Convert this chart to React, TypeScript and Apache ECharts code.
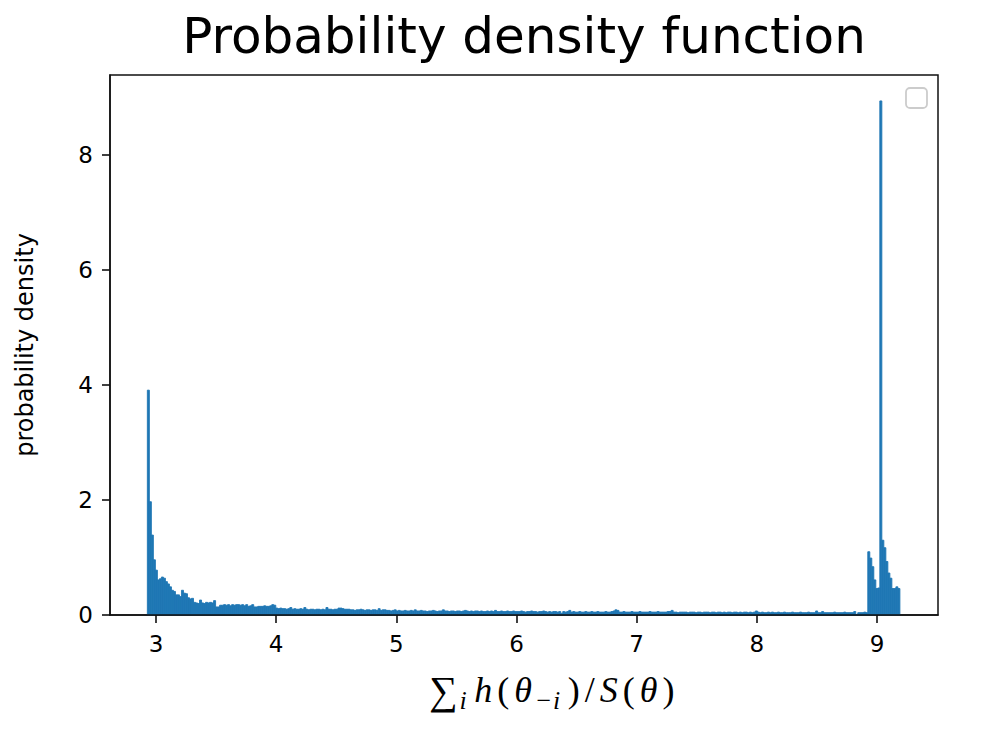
import React, { useEffect, useRef } from "react";
import * as echarts from "echarts";

// Histogram bin layout (equal-width bins)
const BIN_START = 2.928;
const BIN_WIDTH = 0.0167;

// Density per bin
const headBins = [
  3.91, 1.97, 1.39, 0.96, 0.78, 0.61, 0.63, 0.66, 0.64, 0.58,
  0.54, 0.49, 0.43, 0.41, 0.35, 0.35, 0.32, 0.43, 0.38, 0.37,
  0.30, 0.28, 0.29, 0.22, 0.21, 0.20, 0.26, 0.21, 0.20, 0.22,
  0.21, 0.22, 0.21, 0.25, 0.14, 0.14, 0.17, 0.17, 0.18, 0.17,
  0.18, 0.16, 0.18, 0.17, 0.18, 0.18, 0.17, 0.18, 0.16, 0.18,
  0.15, 0.16, 0.18, 0.14, 0.14, 0.15, 0.15, 0.15, 0.16, 0.15,
  0.15, 0.16, 0.18, 0.17,
];

const tailA = [
  0.12, 0.11, 0.12, 0.11, 0.11, 0.10,
  0.11, 0.13, 0.10, 0.11, 0.10, 0.10, 0.11, 0.10, 0.13, 0.10,
  0.09, 0.10, 0.10, 0.09, 0.10, 0.10, 0.09, 0.10, 0.09, 0.13,
  0.10, 0.10, 0.09, 0.10, 0.10, 0.12, 0.12, 0.11, 0.10, 0.10,
  0.10, 0.09, 0.09, 0.08, 0.09, 0.09, 0.10, 0.09, 0.08, 0.09,
  0.09, 0.08, 0.09, 0.09, 0.08, 0.11, 0.08, 0.09, 0.09, 0.08,
  0.08, 0.07, 0.08, 0.09, 0.07, 0.08, 0.07, 0.07, 0.08, 0.07,
  0.07, 0.08, 0.07, 0.09, 0.07, 0.07, 0.08, 0.07, 0.07, 0.06,
  0.07, 0.07, 0.08, 0.07, 0.06, 0.07, 0.07, 0.09, 0.07, 0.07,
  0.06, 0.07, 0.07, 0.06, 0.07, 0.07, 0.06, 0.07, 0.08, 0.07,
  0.06, 0.07, 0.06, 0.07, 0.07, 0.06, 0.07, 0.06, 0.06, 0.07,
  0.06, 0.07, 0.06, 0.08, 0.06, 0.06, 0.07, 0.06, 0.06, 0.07,
  0.06, 0.06, 0.07, 0.06, 0.06, 0.06, 0.07, 0.06, 0.05, 0.06,
  0.06, 0.07, 0.06, 0.06, 0.05, 0.06, 0.06, 0.07, 0.06, 0.05,
];

const tailB = [
  0.06, 0.05, 0.06, 0.06, 0.05, 0.06, 0.03, 0.06, 0.05, 0.06,
  0.08, 0.05, 0.06, 0.05, 0.05, 0.06, 0.05, 0.05, 0.06, 0.05,
  0.05, 0.06, 0.05, 0.05, 0.06, 0.05, 0.05, 0.05, 0.06, 0.05,
  0.05, 0.06, 0.07, 0.09, 0.08, 0.05, 0.05, 0.06, 0.05, 0.05,
  0.05, 0.06, 0.05, 0.05, 0.05, 0.06, 0.05, 0.05, 0.05, 0.05,
  0.06, 0.05, 0.05, 0.05, 0.06, 0.05, 0.05, 0.05, 0.05, 0.06,
  0.06, 0.08, 0.05, 0.05, 0.04, 0.05, 0.05, 0.05, 0.05, 0.04,
  0.05, 0.05, 0.05, 0.04, 0.05, 0.05, 0.04, 0.05, 0.05, 0.05,
  0.04, 0.05, 0.05, 0.04, 0.05, 0.05, 0.04, 0.05, 0.04, 0.05,
  0.05, 0.04, 0.05, 0.05, 0.04, 0.05, 0.04, 0.05, 0.05, 0.04,
  0.05, 0.04, 0.05, 0.07, 0.05, 0.04, 0.05, 0.04, 0.04, 0.05,
  0.04, 0.05, 0.04, 0.04, 0.05, 0.04, 0.04, 0.05, 0.04, 0.04,
  0.04, 0.05, 0.04, 0.04, 0.04, 0.05, 0.04, 0.04, 0.04, 0.05,
  0.04, 0.04, 0.04, 0.07, 0.04, 0.04, 0.06, 0.04, 0.04, 0.04,
  0.04, 0.04, 0.05, 0.04, 0.04, 0.04, 0.04, 0.05, 0.04, 0.04,
  0.04, 0.04, 0.06, 0.01, 0.04, 0.04, 0.04, 0.05, 0.04,
];

const rightCluster = [
  1.10, 0.99, 0.84, 0.61, 0.46, 0.47, 8.94, 1.30, 1.17, 0.93,
  0.73, 0.64, 0.46, 0.46, 0.49, 0.46,
];

const xTicks = [3, 4, 5, 6, 7, 8, 9];
const yTicks = [0, 2, 4, 6, 8];

const TITLE = "Probability density function";
const Y_LABEL = "probability density";

export default function App() {
  const ref = useRef<HTMLDivElement>(null);

  useEffect(() => {
    if (!ref.current) return;
    const chart = echarts.init(ref.current, undefined, { renderer: "svg" });

    const densities = [...headBins, ...tailA, ...tailB, ...rightCluster];
    const histData = densities.map((d, i) => [
      BIN_START + i * BIN_WIDTH,
      BIN_START + (i + 1) * BIN_WIDTH,
      d,
    ]);

    const lineColor = "#111";
    const font = "DejaVu Sans";
    const serif = "Liberation Serif";
    const pad = [0, 2.5, 0, 2.5];

    chart.setOption({
      animation: false,
      backgroundColor: "#fff",
      grid: {
        left: 110,
        right: 59,
        top: 75,
        bottom: 115,
        show: true,
        borderColor: lineColor,
        borderWidth: 1.5,
        backgroundColor: "transparent",
      },
      xAxis: {
        type: "value",
        min: 2.6172,
        max: 9.5076,
        z: 10,
        axisLine: { show: true, lineStyle: { color: lineColor, width: 1.5 } },
        axisTick: {
          show: true,
          length: 8,
          customValues: xTicks,
          lineStyle: { color: lineColor, width: 1.6 },
        },
        axisLabel: {
          customValues: xTicks,
          margin: 17,
          fontSize: 23,
          fontFamily: font,
          color: "#000",
        },
        splitLine: { show: false },
      },
      yAxis: {
        type: "value",
        min: 0,
        max: 9.391,
        z: 10,
        name: Y_LABEL,
        nameLocation: "middle",
        nameRotate: 90,
        nameGap: 73,
        nameTextStyle: { fontSize: 24, fontFamily: font, color: "#000" },
        axisLine: { show: true, lineStyle: { color: lineColor, width: 1.5 } },
        axisTick: {
          show: true,
          length: 8,
          customValues: yTicks,
          lineStyle: { color: lineColor, width: 1.6 },
        },
        axisLabel: {
          customValues: yTicks,
          margin: 17,
          fontSize: 23,
          fontFamily: font,
          color: "#000",
        },
        splitLine: { show: false },
      },
      graphic: [
        {
          type: "text",
          x: 524,
          y: 36,
          style: {
            text: TITLE,
            fontSize: 50,
            fontFamily: font,
            fill: "#000",
            align: "center",
            verticalAlign: "middle",
            textAlign: "center",
            textVerticalAlign: "middle",
          },
        },
        {
          type: "text",
          x: 553,
          y: 690,
          style: {
            text:
              "{sum|∑}{sub|i}{it|h}{up|(}{it|θ}{subu|−}{sub|i}{up|)}{up|/}{it|S}{up|(}{it|θ}{up|)}",
            align: "center",
            verticalAlign: "middle",
            textAlign: "center",
            textVerticalAlign: "middle",
            fill: "#000",
            rich: {
              sum: {
                fontSize: 40,
                fontFamily: serif,
                lineHeight: 46,
                verticalAlign: "middle",
                padding: [0, 1, 0, 0],
                color: "#000",
              },
              up: {
                fontSize: 36,
                fontFamily: serif,
                lineHeight: 46,
                verticalAlign: "middle",
                padding: pad,
                color: "#000",
              },
              it: {
                fontSize: 36,
                fontFamily: serif,
                fontStyle: "italic",
                lineHeight: 46,
                verticalAlign: "middle",
                padding: pad,
                color: "#000",
              },
              sub: {
                fontSize: 26,
                fontFamily: serif,
                fontStyle: "italic",
                lineHeight: 46,
                verticalAlign: "bottom",
                padding: [0, 5, 0, 1],
                color: "#000",
              },
              subu: {
                fontSize: 26,
                fontFamily: serif,
                lineHeight: 46,
                verticalAlign: "bottom",
                padding: [0, 1, 0, 2],
                color: "#000",
              },
            },
          },
        },
        {
          type: "rect",
          shape: { x: 906, y: 88, width: 21, height: 20, r: 4 },
          style: { fill: "#fff", stroke: "#cccccc", lineWidth: 1.8 },
          z: 100,
        },
      ],
      series: [
        {
          type: "custom",
          data: histData,
          encode: { x: [0, 1], y: 2 },
          renderItem: (params: any, api: any) => {
            const p0 = api.coord([api.value(0), 0]);
            const p1 = api.coord([api.value(1), api.value(2)]);
            return {
              type: "rect",
              shape: {
                x: p0[0],
                y: p1[1],
                width: p1[0] - p0[0],
                height: p0[1] - p1[1],
              },
              style: { fill: "#1f77b4", stroke: "#1f77b4", lineWidth: 0.9 },
            };
          },
        },
      ],
    });

    return () => chart.dispose();
  }, []);

  return (
    <div
      ref={ref}
      style={{ position: "absolute", left: 0, top: 0, width: 997, height: 730 }}
    />
  );
}
